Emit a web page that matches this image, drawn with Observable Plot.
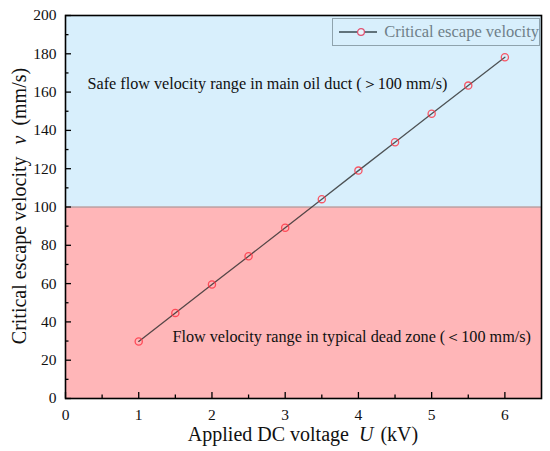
<!DOCTYPE html>
<html>
<head>
<meta charset="utf-8">
<script src="https://cdn.jsdelivr.net/npm/d3@7"></script>
<script src="https://cdn.jsdelivr.net/npm/@observablehq/plot@0.6"></script>
<style>
  body { margin: 0; background: #fff; }
  #wrap { position: relative; width: 550px; height: 451px; font-family: "Liberation Serif", serif; }
  #legend { position: absolute; left: 332px; top: 18px; width: 208px; height: 28px; border: 1px solid #8fa3ad; box-sizing: border-box; display: flex; align-items: center; white-space: nowrap; }
  #legend span { color: #6f7f89; font-size: 16.5px; margin-left: 7px; }
</style>
</head>
<body>
<div id="wrap"></div>
<script>
const voltage = [1, 1.5, 2, 2.5, 3, 3.5, 4, 4.5, 5, 5.5, 6];
const velocity = [29.8, 44.7, 59.5, 74.3, 89.2, 104.1, 119.0, 133.8, 148.7, 163.4, 178.2];
const xMajor = [0, 1, 2, 3, 4, 5, 6];
const xMinor = [0.5, 1.5, 2.5, 3.5, 4.5, 5.5];
const yMajor = [0, 20, 40, 60, 80, 100, 120, 140, 160, 180, 200];
const yMinor = [10, 30, 50, 70, 90, 110, 130, 150, 170, 190];
const zones = [
  {y1: 100, y2: 200, fill: "#d8effc"},
  {y1: 0, y2: 100, fill: "#ffb6b8"}
];
const notes = [
  {x: 0.3, y: 164.5, text: "Safe flow velocity range in main oil duct (＞100 mm/s)"},
  {x: 1.46, y: 32, text: "Flow velocity range in typical dead zone (＜100 mm/s)"}
];
const legendLabel = "Critical escape velocity";

const font = "Liberation Serif";
const xDomain = [0, 6.5], yDomain = [0, 200];
const data = voltage.map((v, i) => ({x: v, y: velocity[i]}));
const pxY = 200 / 383; // data units per pixel on y
const pxX = 6.5 / 476;

const chart = Plot.plot({
  width: 550, height: 451,
  marginLeft: 65, marginRight: 9, marginTop: 15, marginBottom: 53,
  style: {fontFamily: font, fontSize: "15.5px", color: "#111"},
  x: {domain: xDomain, ticks: xMajor, tickSize: 0, tickPadding: 10, label: null, tickFormat: d => d},
  y: {domain: yDomain, ticks: yMajor, tickSize: 0, tickPadding: 9, label: null, tickFormat: d => d},
  marks: [
    Plot.rectY(zones, {x1: xDomain[0], x2: xDomain[1], y1: "y1", y2: "y2", fill: "fill"}),
    Plot.ruleY([100], {stroke: "#7a8a90", strokeWidth: 0.8}),
    Plot.ruleX(xMajor, {x: d => d, y1: 0, y2: 6 * pxY, stroke: "#000", strokeWidth: 1.3}),
    Plot.ruleX(xMinor, {x: d => d, y1: 0, y2: 3.5 * pxY, stroke: "#000", strokeWidth: 1.3}),
    Plot.ruleY(yMajor, {y: d => d, x1: 0, x2: 6 * pxX, stroke: "#000", strokeWidth: 1.3}),
    Plot.ruleY(yMinor, {y: d => d, x1: 0, x2: 3.5 * pxX, stroke: "#000", strokeWidth: 1.3}),
    Plot.text(notes, {x: "x", y: "y", text: "text", textAnchor: "start", fontSize: 16.2, fill: "#111"}),
    Plot.line(data, {x: "x", y: "y", stroke: "#2a2a2a", strokeOpacity: 0.8, strokeWidth: 1.3}),
    Plot.dot(data, {x: "x", y: "y", r: 3.6, stroke: "#ff3040", strokeOpacity: 0.8, strokeWidth: 1.3, fill: "none"}),
    Plot.frame({stroke: "#000", strokeWidth: 1.6})
  ]
});

document.getElementById("wrap").appendChild(chart);

// axis titles with italic variable
const svg = d3.select(chart);
const yl = svg.append("text")
  .attr("transform", "translate(26,206) rotate(-90)")
  .attr("text-anchor", "middle")
  .attr("font-size", 20).attr("fill", "#111");
yl.append("tspan").text("Critical escape velocity ");
yl.append("tspan").attr("font-style", "italic").attr("dx", 7).text("v");
yl.append("tspan").attr("dx", 10).text("(mm/s)");

const xl = svg.append("text")
  .attr("transform", "translate(303,441)")
  .attr("text-anchor", "middle")
  .attr("font-size", 20).attr("fill", "#111");
xl.append("tspan").text("Applied DC voltage ");
xl.append("tspan").attr("font-style", "italic").attr("dx", 5).text("U");
xl.append("tspan").attr("dx", 2).text(" (kV)");

svg.attr("font-family", font);
svg.selectAll("text, tspan, g").attr("font-family", font).style("font-family", font);

// legend
const lg = document.createElement("div");
lg.id = "legend";
lg.innerHTML = `<svg width="44" height="12" style="margin-left:6px"><line x1="0" y1="6" x2="44" y2="6" stroke="#3a4a50" stroke-width="1.3"/><circle cx="22" cy="6" r="3.4" fill="#e8f4fc" stroke="#e05070" stroke-width="1.2"/></svg><span>${legendLabel}</span>`;
document.getElementById("wrap").appendChild(lg);
</script>
</body>
</html>
